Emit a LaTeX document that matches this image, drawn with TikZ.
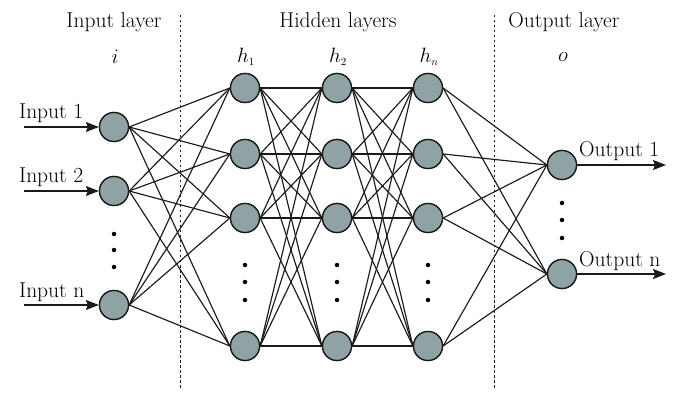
\documentclass[tikz,border=0pt]{standalone}
\usetikzlibrary{arrows.meta}
\definecolor{nodefill}{HTML}{8FA3A5}
\definecolor{linecol}{HTML}{1A1A1A}
\tikzset{
  neuron/.style={circle, draw=linecol, line width=1.3pt, fill=nodefill, minimum size=29pt, inner sep=0pt},
  conn/.style={draw=linecol, line width=1.15pt},
  iarrow/.style={draw=linecol, line width=1.3pt, -{Stealth[length=13pt,width=10pt,inset=2pt]}},
  sep/.style={draw=linecol, line width=1pt, dash pattern=on 2.5pt off 2.5pt},
  title/.style={font=\fontsize{21.5}{25}\selectfont, inner sep=0pt},
  lbl/.style={font=\fontsize{21.5}{25}\selectfont, inner sep=0pt},
  dotmark/.style={circle, fill=black, inner sep=0pt, minimum size=4.5pt},
}
\begin{document}
\begin{tikzpicture}[x=1pt,y=-1pt]
\useasboundingbox (0,0) rectangle (692,411);
% separators
\coordinate (s1t) at (180,15); \coordinate (s1b) at (180,388);
\coordinate (s2t) at (494,15); \coordinate (s2b) at (494,388);
\draw[sep] (s1t) -- (s1b);
\draw[sep] (s2t) -- (s2b);
% titles
\node[title] (tin) at (114,22) {Input layer};
\node[title] (thid) at (338,22) {Hidden layers};
\node[title] (tout) at (564,22) {Output layer};
\node[title] (li) at (115,57) {$i$};
\node[title] (lh1) at (246,57) {$h_{\scriptscriptstyle 1}$};
\node[title] (lh2) at (338,57) {$h_{\scriptscriptstyle 2}$};
\node[title] (lhn) at (429,57) {$h_{\scriptscriptstyle n}$};
\node[title] (lo) at (563,57) {$o$};
% input nodes
\node[neuron] (i1) at (114,127) {};
\node[neuron] (i2) at (114,191) {};
\node[neuron] (i3) at (114,305) {};
% hidden nodes
\foreach \c/\x in {a/245,b/337,c/428}{
  \node[neuron] (\c1) at (\x,88) {};
  \node[neuron] (\c2) at (\x,154) {};
  \node[neuron] (\c3) at (\x,218) {};
  \node[neuron] (\c4) at (\x,346) {};
}
% output nodes
\node[neuron] (o1) at (562,165) {};
\node[neuron] (o2) at (562,274) {};
% connections
\foreach \s in {1,2,3}{\foreach \t in {1,2,3,4}{\draw[conn] (i\s.east) -- (a\t.west);}}
\foreach \s in {1,2,3,4}{\foreach \t in {1,2,3,4}{\draw[conn] (a\s.east) -- (b\t.west); \draw[conn] (b\s.east) -- (c\t.west);}}
\foreach \s in {1,2,3,4}{\foreach \t in {1,2}{\draw[conn] (c\s.east) -- (o\t.west);}}
% redraw nodes on top
\foreach \n in {i1,i2,i3,a1,a2,a3,a4,b1,b2,b3,b4,c1,c2,c3,c4,o1,o2}{
  \path (\n.center) node[neuron] {};
}
% input arrows
\coordinate (ia1) at (24,127);
\coordinate (ia2) at (24,191);
\coordinate (ia3) at (24,305);
\draw[iarrow] (ia1) -- (i1.west);
\draw[iarrow] (ia2) -- (i2.west);
\draw[iarrow] (ia3) -- (i3.west);
\node[lbl, anchor=base west] (in1) at (19,119) {Input 1};
\node[lbl, anchor=base west] (in2) at (19,183) {Input 2};
\node[lbl, anchor=base west] (in3) at (19,297) {Input n};
% output arrows
\coordinate (oa1) at (666,165);
\coordinate (oa2) at (666,274);
\draw[iarrow] (o1.east) -- (oa1);
\draw[iarrow] (o2.east) -- (oa2);
\node[lbl, anchor=base west] (on1) at (579,157) {Output 1};
\node[lbl, anchor=base west] (on2) at (579,266) {Output n};
% dots
\foreach \y in {234,250,267}{\node[dotmark] at (114,\y) {};}
\foreach \x in {245,337,428}{\foreach \y in {265,282,300}{\node[dotmark] at (\x,\y) {};}}
\foreach \y in {203,220,238}{\node[dotmark] at (562,\y) {};}
\end{tikzpicture}
\end{document}
